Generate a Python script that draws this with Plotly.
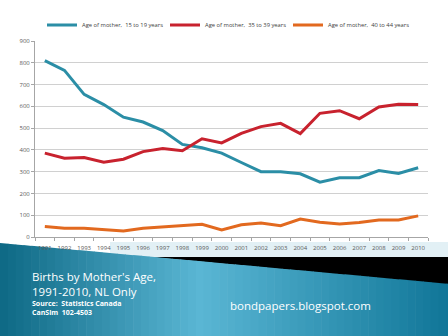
import plotly.graph_objects as go

years = [str(y) for y in range(1991, 2011)]
age_15_19 = [810, 765, 655, 608, 550, 528, 489, 425, 410, 385, 342, 300, 300, 290, 252, 272, 272, 305, 292, 318]
age_35_39 = [385, 362, 365, 343, 357, 392, 406, 396, 451, 432, 476, 507, 522, 475, 568, 580, 543, 597, 610, 608]
age_40_44 = [48, 40, 40, 33, 28, 40, 45, 50, 58, 32, 56, 64, 52, 82, 68, 60, 67, 78, 78, 97]
series_names = ["Age of mother,  15 to 19 years", "Age of mother,  35 to 39 years", "Age of mother,  40 to 44 years"]
series_colors = ["#2b8ea6", "#c8222e", "#e2691f"]
y_ticks = list(range(0, 1000, 100))

W, H = 448, 336
L, R, T, B = 35, 20, 40, 99
PW, PH = W - L - R, H - T - B


def px(x):
    return (x - L) / PW


def py(y):
    return (H - B - y) / PH


fig = go.Figure()
for name, vals, col in zip(series_names, [age_15_19, age_35_39, age_40_44], series_colors):
    fig.add_trace(go.Scatter(x=years, y=vals, mode="lines", name=name,
                             line=dict(color=col, width=3)))

XMAX = 470
shapes = []
# pale band behind x labels on the right
shapes.append(dict(type="rect", xref="paper", yref="paper", x0=px(110), x1=px(XMAX), y0=py(257), y1=py(242),
                   fillcolor="#e2f0f5", line=dict(width=0), layer="below"))
# black wedge
shapes.append(dict(type="path", xref="paper", yref="paper",
                   path=f"M {px(150)},{py(257)} L {px(XMAX)},{py(257)} L {px(XMAX)},{py(287)} Z",
                   fillcolor="#000000", line=dict(width=0), layer="below"))


def ytop(x):
    return 243 + x * 41 / 448


def lerp(c1, c2, t):
    return tuple(int(round(a + (b - a) * t)) for a, b in zip(c1, c2))


cL, cM, cR = (14, 104, 132), (90, 182, 212), (16, 118, 152)
N = 60
for i in range(N):
    xa, xb = XMAX * i / N, XMAX * (i + 1) / N
    xm = (xa + xb) / 2
    if xm < 200:
        c = lerp(cL, cM, xm / 200)
    else:
        c = lerp(cM, cR, min(1, (xm - 200) / (W - 200)))
    col = "rgb(%d,%d,%d)" % c
    path = (f"M {px(xa)},{py(ytop(xa))} L {px(xb + 0.6)},{py(ytop(xb + 0.6))} "
            f"L {px(xb + 0.6)},{py(H + 2)} L {px(xa)},{py(H + 2)} Z")
    shapes.append(dict(type="path", xref="paper", yref="paper", path=path,
                       fillcolor=col, line=dict(width=0), layer="below"))

ann_font = "Open Sans"
annotations = [
    dict(text="Births by Mother's Age,", x=px(30), y=py(277), size=11.5),
    dict(text="1991-2010, NL Only", x=px(30), y=py(292), size=11.5),
    dict(text="<b>Source:  Statistics Canada</b>", x=px(30), y=py(303.5), size=7),
    dict(text="<b>CanSim  102-4503</b>", x=px(30), y=py(313), size=7),
    dict(text="bondpapers.blogspot.com", x=px(228), y=py(306), size=11.5),
]
annotations = [dict(text=a["text"], x=a["x"], y=a["y"], xref="paper", yref="paper",
                    xanchor="left", yanchor="middle", showarrow=False,
                    font=dict(family=ann_font, size=a["size"], color="white")) for a in annotations]

fig.update_layout(
    width=W, height=H,
    margin=dict(l=L, r=R, t=T, b=B),
    paper_bgcolor="white",
    plot_bgcolor="rgba(0,0,0,0)",
    shapes=shapes,
    annotations=annotations,
    font=dict(family="Open Sans", size=6, color="#595959"),
    showlegend=True,
    legend=dict(orientation="h", x=px(42), xanchor="left", y=py(25), yanchor="middle",
                font=dict(size=5.8, color="#404040"), itemwidth=30, bgcolor="rgba(0,0,0,0)",
                entrywidth=78, entrywidthmode="pixels", tracegroupgap=0),
    xaxis=dict(type="category", range=[-0.5, 19.5], showgrid=False, showline=True, linecolor="#a6a6a6",
               linewidth=1, ticks="outside", tickson="boundaries", ticklen=3, tickcolor="#a6a6a6",
               tickangle=0, ticklabelstandoff=5,
               tickfont=dict(size=6, color="#595959"), fixedrange=True),
    yaxis=dict(range=[0, 900], tickvals=y_ticks, showgrid=True, gridcolor="#d0d0d0", gridwidth=1,
               showline=True, linecolor="#a6a6a6", linewidth=1, ticks="outside", ticklen=3,
               tickcolor="#a6a6a6", zeroline=False, tickfont=dict(size=6, color="#595959")),
)

fig.write_html("out.html")
